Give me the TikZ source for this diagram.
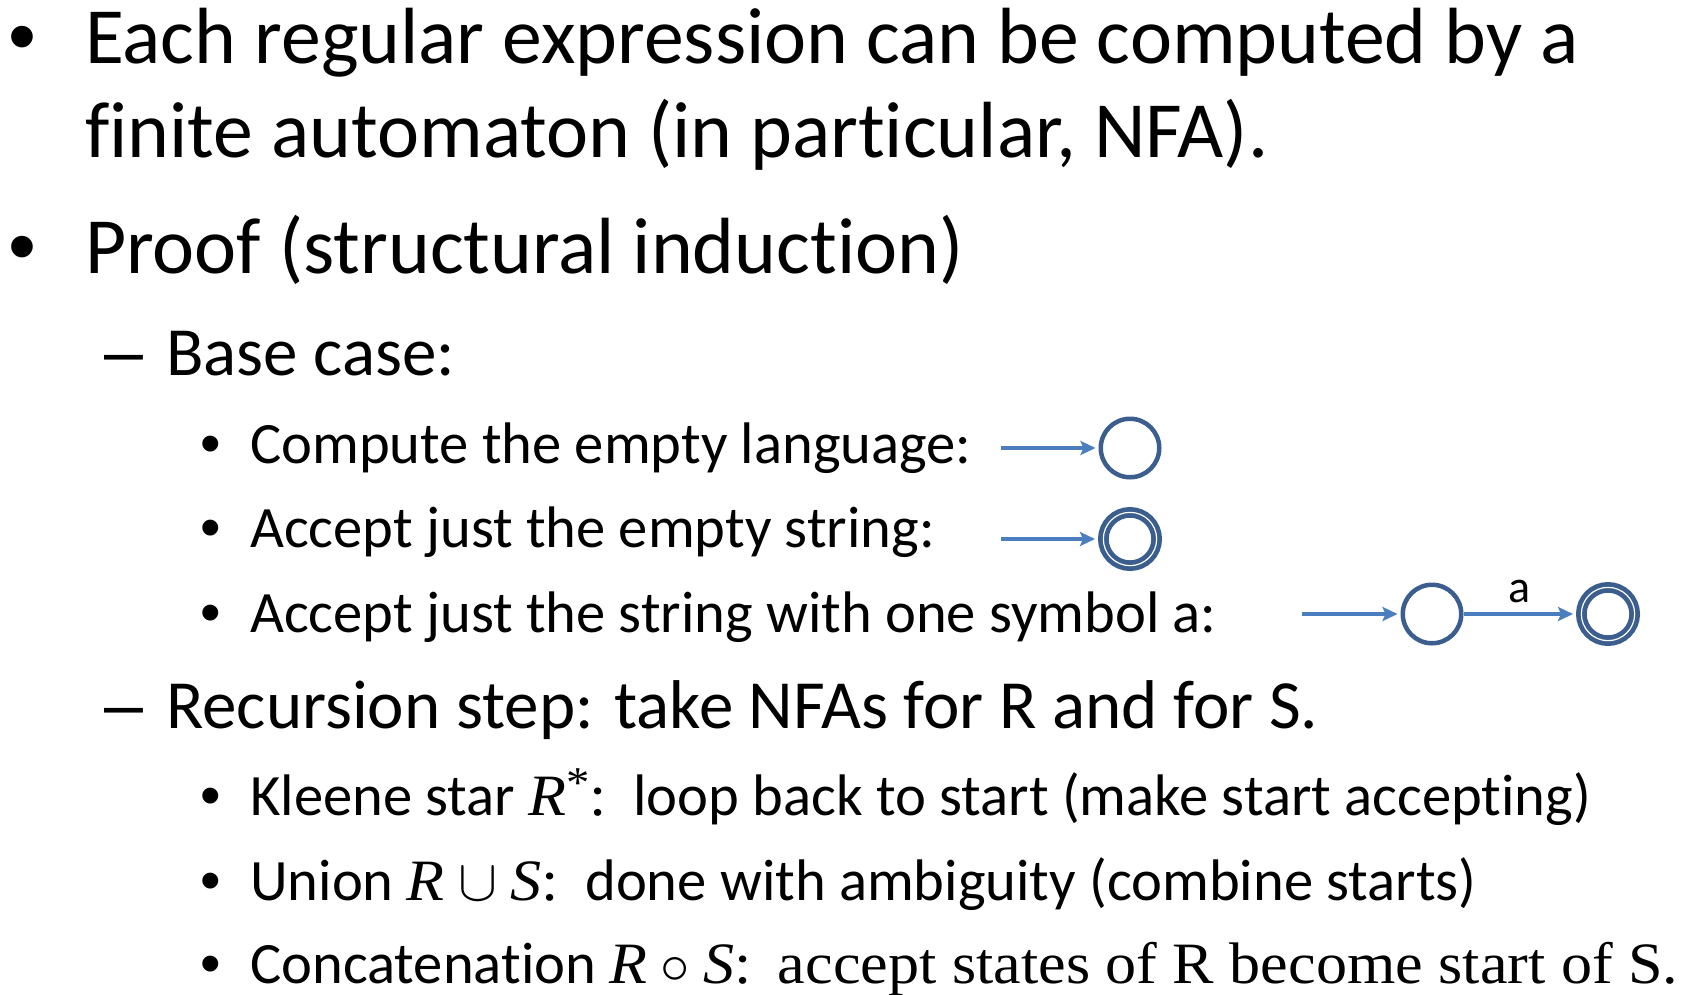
\RequirePackage{fix-cm}
\documentclass[tikz,border=0pt]{standalone}
\usepackage{fontspec}
\setmainfont{Carlito}[Ligatures=NoCommon]
\newfontfamily\camb{Liberation Serif}[FakeStretch=1.06]
\newfontfamily\arialf{Liberation Sans}
\usetikzlibrary{arrows.meta}
\definecolor{arrowblue}{HTML}{4A7EBF}
\definecolor{ringblue}{HTML}{3B5E8F}
\newcommand{\mR}{{\camb\itshape R}}
\newcommand{\mS}{{\camb\itshape S}}
\begin{document}
\begin{tikzpicture}[x=1pt,y=-1pt,
  t1/.style={anchor=base west,inner sep=0pt,font=\fontsize{79.7}{96}\selectfont},
  t2/.style={anchor=base west,inner sep=0pt,font=\fontsize{69}{83}\selectfont},
  t3/.style={anchor=base west,inner sep=0pt,font=\fontsize{58.6}{70}\selectfont},
  b1/.style={anchor=base,inner sep=0pt,font=\arialf\fontsize{79.7}{96}\selectfont},
  b2/.style={anchor=base,inner sep=0pt,font=\arialf\fontsize{70}{84}\selectfont},
  b3/.style={anchor=base,inner sep=0pt,font=\arialf\fontsize{58.6}{70}\selectfont},
  state/.style={circle,draw=ringblue,line width=4.5pt,minimum size=58.5pt,inner sep=0pt},
  accstate/.style={circle,draw=ringblue,double=white,double distance=1.2pt,line width=4.75pt,minimum size=53.3pt,inner sep=0pt,outer sep=5.35pt},
  arr/.style={draw=arrowblue,line width=3.5pt,-{Stealth[length=15pt,width=14pt,inset=3pt]},shorten >=3pt},
  lab/.style={anchor=base,inner sep=0pt,font=\fontsize{46}{56}\selectfont}
]
\useasboundingbox (0,0) rectangle (1688,994);
% level 1
\node[b1] (bu1) at (22.7,63) {•};
\node[t1] (l1) at (85,63) {Each regular expression can be computed by a};
\node[t1] (l2) at (85,157) {finite automaton (in particular, NFA).};
\node[b1] (bu2) at (22.7,273) {•};
\node[t1] (l3) at (85,273) {Proof (structural induction)};
% level 2
\node[b2] (da1) at (123.5,375) {–};
\node[t2] (l4) at (166,375) {Base case:};
% level 3
\node[b3] (bu3) at (210.5,463) {•};
\node[t3] (l5) at (250,463) {Compute the empty language:};
\node[b3] (bu4) at (210.5,547) {•};
\node[t3] (l6) at (250,547) {Accept just the empty string:};
\node[b3] (bu5) at (210.5,632) {•};
\node[t3] (l7) at (250,632) {Accept just the string with one symbol a:};
\node[b2] (da2) at (123.5,728) {–};
\node[t2] (l8) at (166,728) {Recursion step: take NFAs for R and for S.};
\node[b3] (bu6) at (210.5,815) {•};
\node[t3] (l9) at (250,815) {Kleene star \mR\raisebox{0.3em}{\camb\fontsize{44}{50}\selectfont *}{\camb :}\ \ loop back to start (make start accepting)};
\node[b3] (bu7) at (210.5,900) {•};
\node[t3] (l10) at (250,900) {Union \mR\ $\cup$ \mS{\camb :}\ \ done with ambiguity (combine starts)};
\node[b3] (bu8) at (210.5,983) {•};
\node[t3] (l11) at (250,983) {Concatenation \mR\ $\circ$ \mS{\camb :}\ \ {\camb accept states of R become start of S.}};
% automata
\coordinate (i1) at (1001,448);
\node[state] (q1) at (1130,448) {};
\coordinate (i2) at (1001,539);
\node[accstate] (q2) at (1130,539) {};
\coordinate (i3) at (1302,614);
\node[state] (q3) at (1432,614) {};
\node[accstate] (q4) at (1608,614) {};
\draw[arr] (i1) -- (q1);
\draw[arr] (i2) -- (q2);
\draw[arr] (i3) -- (q3);
\draw[arr] (q3) -- node[lab,yshift=12pt] (la) {a} (q4);
\end{tikzpicture}
\end{document}
